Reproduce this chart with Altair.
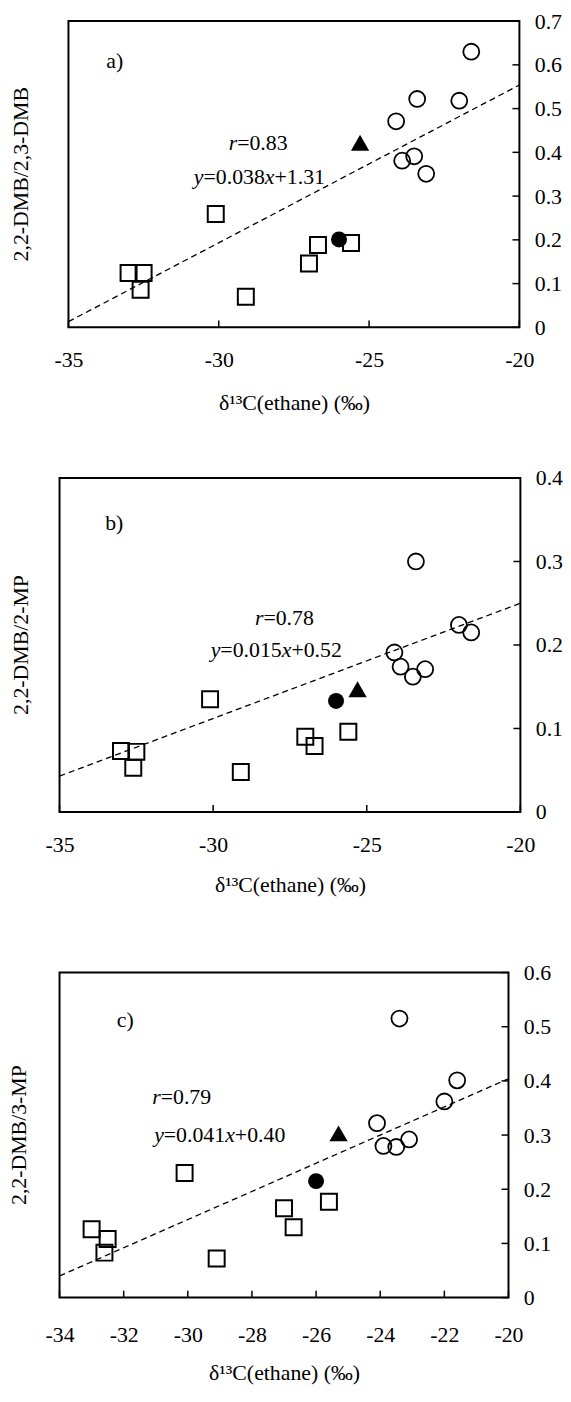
import altair as alt
import pandas as pd

FONT = "Liberation Serif"
FS = 22

# ---------------- data ----------------
# x: delta13C of ethane (permil), shared by the three panels
sq_x = [-33.0, -32.5, -32.6, -30.1, -29.1, -27.0, -26.7, -25.6]   # open squares
fc_x = [-26.0]                                                     # filled circle
tri_x = [-25.3]                                                    # filled triangle
ci_x = [-24.1, -23.4, -23.9, -23.5, -23.1, -22.0, -21.6]           # open circles

# panel a: 2,2-DMB/2,3-DMB
a_sq_y = [0.124, 0.124, 0.086, 0.259, 0.070, 0.146, 0.188, 0.193]
a_fc_y = [0.201]
a_tri_y = [0.422]
a_ci_y = [0.471, 0.522, 0.381, 0.391, 0.351, 0.518, 0.630]
a_line_x = [-35, -20]
a_line_y = [0.013, 0.554]

# panel b: 2,2-DMB/2-MP
b_sq_y = [0.073, 0.072, 0.053, 0.135, 0.048, 0.090, 0.079, 0.096]
b_fc_y = [0.133]
b_tri_y = [0.147]
b_ci_y = [0.191, 0.300, 0.174, 0.162, 0.171, 0.224, 0.215]
b_line_x = [-35, -20]
b_line_y = [0.043, 0.250]

# panel c: 2,2-DMB/3-MP
c_sq_y = [0.126, 0.108, 0.083, 0.230, 0.072, 0.165, 0.130, 0.177]
c_fc_y = [0.215]
c_tri_y = [0.303]
c_ci_y = [0.322, 0.515, 0.280, 0.278, 0.292, 0.362, 0.401]
c_line_x = [-34, -20]
c_line_y = [0.040, 0.404]

# axes
ab_xticks = [-35, -30, -25, -20]
c_xticks = [-34, -32, -30, -28, -26, -24, -22, -20]
a_yticks = [0, 0.1, 0.2, 0.3, 0.4, 0.5, 0.6, 0.7]
b_yticks = [0, 0.1, 0.2, 0.3, 0.4]
c_yticks = [0, 0.1, 0.2, 0.3, 0.4, 0.5, 0.6]

XTITLE = "δ¹³C(ethane) (‰)"
titles = ["2,2-DMB/2,3-DMB", "2,2-DMB/2-MP", "2,2-DMB/3-MP"]
panel_labels = ["a)", "b)", "c)"]
r_texts = ["=0.83", "=0.78", "=0.79"]
eq_parts = [["=0.038", "+1.31"], ["=0.015", "+0.52"], ["=0.041", "+0.40"]]

# annotation anchors (data coordinates)
lab_pos = [(-33.46, 0.609), (-33.22, 0.346), (-31.95, 0.513)]
r_pos = [(-29.67, 0.422), (-28.64, 0.232), (-31.11, 0.370)]
eq_pos = [(-30.83, 0.343), (-30.08, 0.1935), (-31.05, 0.300)]

# ---------------- helpers ----------------
REG_W = {c: 0.5 for c in "0123456789"}
REG_W.update({".": 0.25, "=": 0.564, "+": 0.564})
IT_W = {"r": 0.389, "y": 0.444, "x": 0.444}


def seg_width(s, italic):
    tab = IT_W if italic else REG_W
    return sum(tab.get(ch, 0.5) for ch in s) * FS


def make_panel(p):
    W, H = p["W"], p["H"]

    def X(field):
        return alt.X(
            f"{field}:Q",
            scale=alt.Scale(domain=p["xdom"], nice=False, zero=False, range=[p["inset"], W]),
            axis=alt.Axis(
                values=p["xticks"], labelExpr="'' + datum.value",
                ticks=False, domain=False, grid=False,
                labelFont=FONT, labelFontSize=FS, labelColor="black",
                labelPadding=p["lpad"], labelFlush=False,
                titleFont=FONT, titleFontSize=FS, titleFontWeight="normal",
                titleColor="black", titlePadding=p["tpad"],
                titleX=(p["inset"] + W) / 2, titleAnchor="middle",
            ),
            title=XTITLE,
        )

    def Y(field):
        return alt.Y(
            f"{field}:Q",
            scale=alt.Scale(domain=p["ydom"], nice=False, zero=False),
            axis=alt.Axis(
                orient="right", values=p["yticks"], labelExpr="'' + datum.value",
                ticks=False, domain=False, grid=False,
                labelFont=FONT, labelFontSize=FS, labelColor="black",
                labelPadding=15, labelFlush=False, title=None,
            ),
        )

    layers = []
    # frame of the plot area, drawn from the axis domains
    layers.append(
        alt.Chart(pd.DataFrame({"x": [p["xdom"][0]], "x2": [p["xdom"][1]],
                                "y": [p["ydom"][0]], "y2": [p["ydom"][1]]}))
        .mark_rect(fillOpacity=0, stroke="black", strokeWidth=2)
        .encode(x=X("x"), x2="x2:Q", y=Y("y"), y2="y2:Q")
    )
    # inward tick marks
    layers.append(
        alt.Chart(pd.DataFrame({"x": p["xticks"]})).mark_rule(color="black", strokeWidth=1.5)
        .encode(x=X("x"), y=alt.value(H), y2=alt.value(H - 7))
    )
    layers.append(
        alt.Chart(pd.DataFrame({"y": p["yticks"]})).mark_rule(color="black", strokeWidth=1.5)
        .encode(y=Y("y"), x=alt.value(W), x2=alt.value(W - 7))
    )
    # regression line
    layers.append(
        alt.Chart(pd.DataFrame({"x": p["line_x"], "y": p["line_y"]}))
        .mark_line(color="black", strokeWidth=1.3, strokeDash=[6, 4])
        .encode(x=X("x"), y=Y("y"))
    )
    # points
    layers.append(
        alt.Chart(pd.DataFrame({"x": sq_x, "y": p["sq"]}))
        .mark_point(shape="square", filled=False, size=260, strokeWidth=2, color="black", opacity=1)
        .encode(x=X("x"), y=Y("y"))
    )
    layers.append(
        alt.Chart(pd.DataFrame({"x": ci_x, "y": p["ci"]}))
        .mark_point(shape="circle", filled=False, size=260, strokeWidth=1.8, color="black", opacity=1)
        .encode(x=X("x"), y=Y("y"))
    )
    layers.append(
        alt.Chart(pd.DataFrame({"x": fc_x, "y": p["fc"]}))
        .mark_point(shape="circle", filled=True, size=260, color="black", opacity=1)
        .encode(x=X("x"), y=Y("y"))
    )
    layers.append(
        alt.Chart(pd.DataFrame({"x": tri_x, "y": p["tri"]}))
        .mark_point(shape="triangle-up", filled=True, size=340, color="black", opacity=1)
        .encode(x=X("x"), y=Y("y"))
    )
    # panel label
    lx, ly = p["lab_pos"]
    layers.append(
        alt.Chart(pd.DataFrame({"x": [lx], "y": [ly], "t": [p["label"]]}))
        .mark_text(font=FONT, fontSize=FS, align="center", baseline="middle", color="black")
        .encode(x=X("x"), y=Y("y"), text="t:N")
    )

    # annotations with italic variables
    def segs_layers(pos, segs):
        out = []
        off = 0.0
        for s, it in segs:
            out.append(
                alt.Chart(pd.DataFrame({"x": [pos[0]], "y": [pos[1]], "t": [s]}))
                .mark_text(font=FONT, fontSize=FS, align="left", baseline="middle",
                           dx=off, color="black", fontStyle="italic" if it else "normal")
                .encode(x=X("x"), y=Y("y"), text="t:N")
            )
            off += seg_width(s, it)
        return out

    layers += segs_layers(p["r_pos"], [("r", True), (p["r_text"], False)])
    e1, e2 = p["eq"]
    layers += segs_layers(p["eq_pos"], [("y", True), (e1, False), ("x", True), (e2, False)])

    return alt.layer(*layers).properties(
        width=W, height=H,
        title=alt.TitleParams(
            text=p["ytitle"], orient="left", anchor="middle", frame="group",
            font=FONT, fontSize=FS, fontWeight="normal", color="black", offset=p["toff"],
        ),
    )


panels = [
    dict(W=464, H=309, inset=9, xdom=[-35, -20], xticks=ab_xticks, ydom=[0, 0.7], yticks=a_yticks,
         sq=a_sq_y, fc=a_fc_y, tri=a_tri_y, ci=a_ci_y, line_x=a_line_x, line_y=a_line_y,
         ytitle=titles[0], label=panel_labels[0], lab_pos=lab_pos[0], r_pos=r_pos[0],
         r_text=r_texts[0], eq_pos=eq_pos[0], eq=eq_parts[0], lpad=23, tpad=22, toff=21),
    dict(W=465, H=337, inset=0, xdom=[-35, -20], xticks=ab_xticks, ydom=[0, 0.4], yticks=b_yticks,
         sq=b_sq_y, fc=b_fc_y, tri=b_tri_y, ci=b_ci_y, line_x=b_line_x, line_y=b_line_y,
         ytitle=titles[1], label=panel_labels[1], lab_pos=lab_pos[1], r_pos=r_pos[1],
         r_text=r_texts[1], eq_pos=eq_pos[1], eq=eq_parts[1], lpad=23, tpad=19, toff=12),
    dict(W=453, H=328, inset=0, xdom=[-34, -20], xticks=c_xticks, ydom=[0, 0.6], yticks=c_yticks,
         sq=c_sq_y, fc=c_fc_y, tri=c_tri_y, ci=c_ci_y, line_x=c_line_x, line_y=c_line_y,
         ytitle=titles[2], label=panel_labels[2], lab_pos=lab_pos[2], r_pos=r_pos[2],
         r_text=r_texts[2], eq_pos=eq_pos[2], eq=eq_parts[2], lpad=27, tpad=18, toff=14),
]

pa, pb, pc = [make_panel(p) for p in panels]

chart = (
    alt.vconcat(alt.vconcat(pa, pb, spacing=54), pc, spacing=67)
    .properties(padding={"left": 0, "top": -4, "right": 0, "bottom": 0}, background="white")
    .configure_view(strokeWidth=0)
)

chart.save("out.html", embed_options={"renderer": "svg", "actions": False})
